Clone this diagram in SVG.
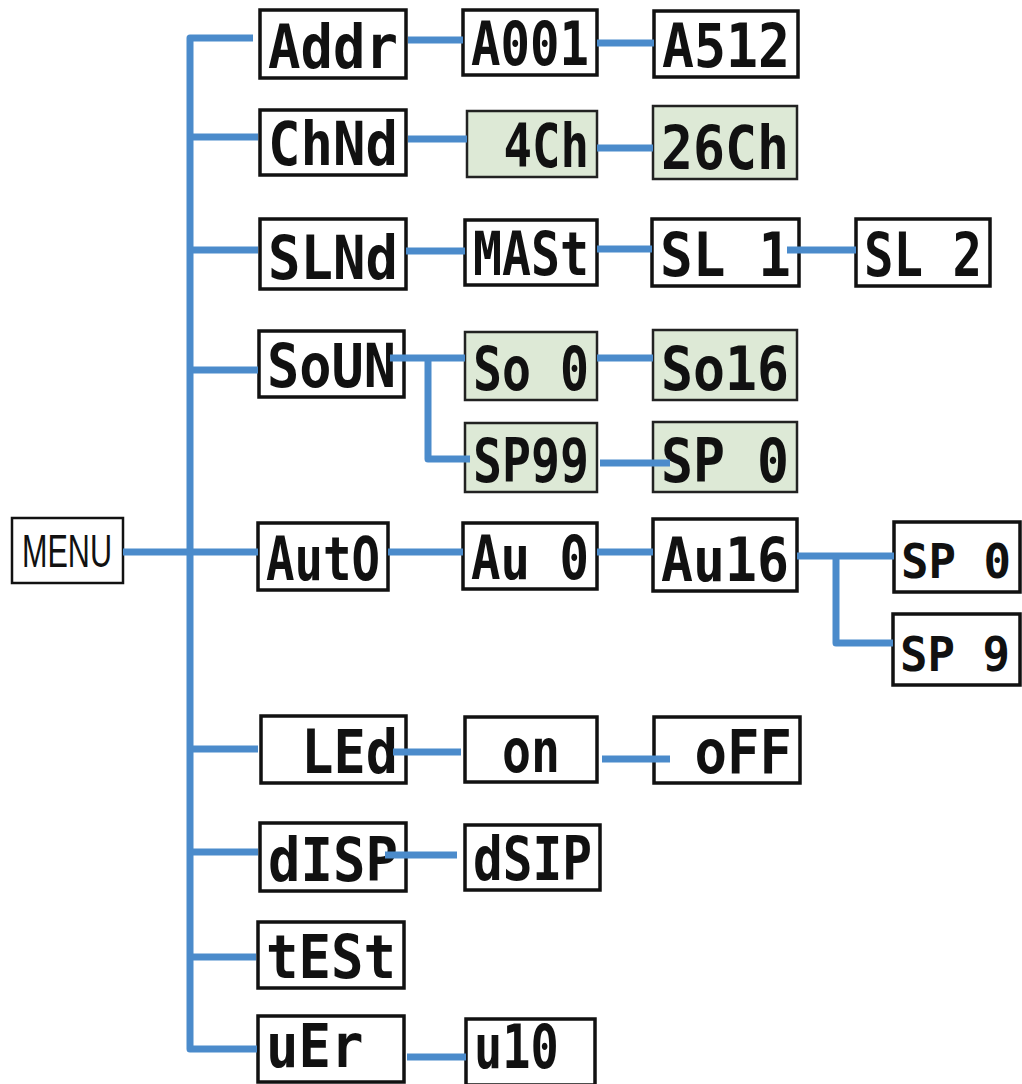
<svg xmlns="http://www.w3.org/2000/svg" width="1022" height="1084" viewBox="0 0 1022 1084">
<style>
.box{fill:#ffffff;stroke:#111111;stroke-width:3.5}
.gbox{fill:#dde9d6;stroke:#222222;stroke-width:2.5}
.seg{font-family:"DejaVu Sans Mono","Liberation Mono",monospace;font-weight:bold;font-size:60px;fill:#111111}
.segs{font-family:"DejaVu Sans Mono","Liberation Mono",monospace;font-weight:bold;font-size:48px;fill:#111111}
.menu{font-family:"Liberation Sans",Arial,sans-serif;font-size:47px;fill:#111111}
.conn{fill:none;stroke:#4b8bcb;stroke-width:7;stroke-linejoin:round}
</style>
<rect width="1022" height="1084" fill="#ffffff"/>
<g id="nodes">
<g id="menu"><rect class="box" x="12" y="518" width="111" height="65" style="stroke-width:2.5"/><text class="menu" x="22" y="567" textLength="90" lengthAdjust="spacingAndGlyphs">MENU</text></g>
<g id="addr"><rect class="box" x="260" y="10" width="146" height="68"/><text class="seg" x="268" y="68" textLength="130" lengthAdjust="spacingAndGlyphs">Addr</text></g>
<g id="a001"><rect class="box" x="463" y="10" width="134" height="65"/><text class="seg" x="471" y="65" textLength="118" lengthAdjust="spacingAndGlyphs">A001</text></g>
<g id="a512"><rect class="box" x="654" y="11" width="144" height="66"/><text class="seg" x="662" y="67" textLength="128" lengthAdjust="spacingAndGlyphs">A512</text></g>
<g id="chnd"><rect class="box" x="260" y="110" width="146" height="65"/><text class="seg" x="268" y="165" textLength="130" lengthAdjust="spacingAndGlyphs">ChNd</text></g>
<g id="ch4"><rect class="gbox" x="467" y="111" width="130" height="66"/><text class="seg" x="503.5" y="167" textLength="85.5" lengthAdjust="spacingAndGlyphs">4Ch</text></g>
<g id="ch26"><rect class="gbox" x="653" y="106" width="144" height="73"/><text class="seg" x="661" y="169" textLength="128" lengthAdjust="spacingAndGlyphs">26Ch</text></g>
<g id="slnd"><rect class="box" x="260" y="219" width="146" height="70"/><text class="seg" x="268" y="279" textLength="130" lengthAdjust="spacingAndGlyphs">SLNd</text></g>
<g id="mast"><rect class="box" x="465" y="220" width="132" height="65"/><text class="seg" x="473" y="275" textLength="116" lengthAdjust="spacingAndGlyphs">MASt</text></g>
<g id="sl1"><rect class="box" x="652" y="219" width="147" height="67"/><text class="seg" x="660" y="276" textLength="131" lengthAdjust="spacingAndGlyphs">SL 1</text></g>
<g id="sl2"><rect class="box" x="856" y="219" width="134" height="67"/><text class="seg" x="864" y="276" textLength="118" lengthAdjust="spacingAndGlyphs">SL 2</text></g>
<g id="soun"><rect class="box" x="259" y="331" width="145" height="66"/><text class="seg" x="267" y="387" textLength="129" lengthAdjust="spacingAndGlyphs">SoUN</text></g>
<g id="so0"><rect class="gbox" x="465" y="332" width="132" height="68"/><text class="seg" x="473" y="390" textLength="116" lengthAdjust="spacingAndGlyphs">So 0</text></g>
<g id="so16"><rect class="gbox" x="653" y="330" width="144" height="70"/><text class="seg" x="661" y="390" textLength="128" lengthAdjust="spacingAndGlyphs">So16</text></g>
<g id="sp99"><rect class="gbox" x="465" y="423" width="132" height="69"/><text class="seg" x="473" y="482" textLength="116" lengthAdjust="spacingAndGlyphs">SP99</text></g>
<g id="sp0a"><rect class="gbox" x="653" y="422" width="144" height="70"/><text class="seg" x="661" y="482" textLength="128" lengthAdjust="spacingAndGlyphs">SP 0</text></g>
<g id="auto"><rect class="box" x="258" y="523" width="130" height="67"/><text class="seg" x="266" y="580" textLength="114" lengthAdjust="spacingAndGlyphs">AutO</text></g>
<g id="au0"><rect class="box" x="463" y="523" width="134" height="66"/><text class="seg" x="471" y="579" textLength="118" lengthAdjust="spacingAndGlyphs">Au 0</text></g>
<g id="au16"><rect class="box" x="653" y="519" width="144" height="72"/><text class="seg" x="661" y="581" textLength="128" lengthAdjust="spacingAndGlyphs">Au16</text></g>
<g id="sp0b"><rect class="box" x="894" y="522" width="126" height="70"/><text class="segs" x="901" y="578" textLength="110" lengthAdjust="spacingAndGlyphs">SP 0</text></g>
<g id="sp9"><rect class="box" x="893" y="614" width="127" height="71"/><text class="segs" x="900" y="671" textLength="110" lengthAdjust="spacingAndGlyphs">SP 9</text></g>
<g id="led"><rect class="box" x="261" y="716" width="145" height="67"/><text class="seg" x="301.25" y="773" textLength="96.75" lengthAdjust="spacingAndGlyphs">LEd</text></g>
<g id="on"><rect class="box" x="465" y="717" width="132" height="65"/><text class="seg" x="502" y="772" textLength="58" lengthAdjust="spacingAndGlyphs">on</text></g>
<g id="off"><rect class="box" x="654" y="717" width="146" height="66"/><text class="seg" x="694.5" y="773" textLength="97.5" lengthAdjust="spacingAndGlyphs">oFF</text></g>
<g id="disp"><rect class="box" x="260" y="823" width="146" height="68"/><text class="seg" x="268" y="881" textLength="130" lengthAdjust="spacingAndGlyphs">dISP</text></g>
<g id="dsip"><rect class="box" x="465" y="825" width="135" height="65"/><text class="seg" x="473" y="880" textLength="119" lengthAdjust="spacingAndGlyphs">dSIP</text></g>
<g id="test"><rect class="box" x="258" y="922" width="146" height="66"/><text class="seg" x="266" y="978" textLength="130" lengthAdjust="spacingAndGlyphs">tESt</text></g>
<g id="uer"><rect class="box" x="258" y="1016" width="146" height="66"/><text class="seg" x="266" y="1067" textLength="97.5" lengthAdjust="spacingAndGlyphs">uEr</text></g>
<g id="u10"><rect class="box" x="466" y="1019" width="129" height="66"/><text class="seg" x="474" y="1068" textLength="84.75" lengthAdjust="spacingAndGlyphs">u10</text></g>
</g>
<g id="connectors">
<path class="conn" d="M253,38 H190 V1049 H257"/>
<path class="conn" d="M190,137 H258"/>
<path class="conn" d="M190,250 H258"/>
<path class="conn" d="M190,370 H258"/>
<path class="conn" d="M123,552 H258"/>
<path class="conn" d="M190,749 H258"/>
<path class="conn" d="M190,852 H258"/>
<path class="conn" d="M190,957 H256"/>
<path class="conn" d="M408,40 H463"/>
<path class="conn" d="M597,43 H654"/>
<path class="conn" d="M408,139 H467"/>
<path class="conn" d="M597,148 H653"/>
<path class="conn" d="M406,251 H465"/>
<path class="conn" d="M597,249 H652"/>
<path class="conn" d="M787,250 H856"/>
<path class="conn" d="M390,358 H465 M428,358 V459 H470"/>
<path class="conn" d="M597,358 H653"/>
<path class="conn" d="M600,463 H670"/>
<path class="conn" d="M388,552 H463"/>
<path class="conn" d="M597,552 H653"/>
<path class="conn" d="M797,556 H894 M836,556 V643 H893"/>
<path class="conn" d="M393,752 H461"/>
<path class="conn" d="M602,759 H670"/>
<path class="conn" d="M385,855 H457"/>
<path class="conn" d="M407,1057 H466"/>
</g>
</svg>
